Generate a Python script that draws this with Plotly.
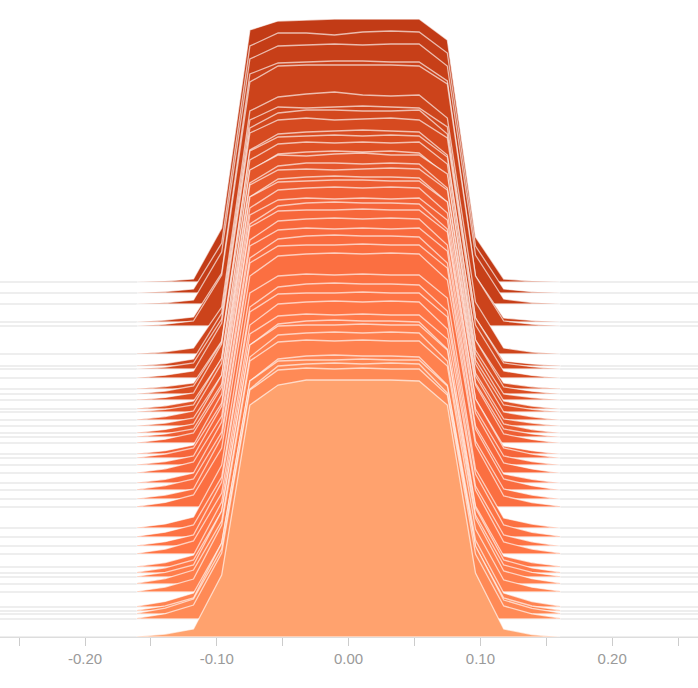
import plotly.graph_objects as go
from plotly.colors import sample_colorscale

# bin centres (x) shared by all ridges
bins = [-0.1605, -0.1391, -0.1177, -0.0963, -0.0749, -0.0535, -0.0321, -0.0107,
        0.0107, 0.0321, 0.0535, 0.0749, 0.0963, 0.1177, 0.1391, 0.1605]

# ridge baselines, back (top) to front (bottom)
offsets = [355, 344, 333, 315, 311, 283, 271, 268, 259, 248,
           243, 237, 228, 225, 217, 211, 204, 200, 194, 183,
           179, 172, 164, 154, 147, 138, 130, 109, 100, 91,
           83, 70, 64, 60, 53, 45, 30, 26, 23, 18, 0]

d00 = [0.0, 1.0, 3, 54, 252, 261, 262, 263, 263, 263, 263, 242, 45, 3, 1.0, 0.0]
d01 = [0.0, 1.5, 4, 50, 247, 260, 260, 258, 261, 262, 261, 240, 47, 4, 1.3, 0.1]
d02 = [0.1, 1.2, 4, 52, 245, 258, 259, 260, 259, 260, 260, 238, 49, 5, 1.5, 0.2]
d03 = [0.1, 2.0, 5, 49, 248, 259, 260, 261, 261, 260, 260, 241, 46, 4, 1.6, 0.0]
d04 = [0.0, 1.8, 5, 51, 244, 260, 261, 261, 261, 261, 260, 242, 50, 5, 1.8, 0.1]
d05 = [0.2, 2.2, 6, 47, 243, 257, 260, 262, 259, 258, 259, 236, 52, 6, 2.0, 0.2]
d06 = [0.2, 2.5, 7, 53, 246, 259, 258, 259, 260, 259, 258, 239, 48, 5, 2.1, 0.3]
d07 = [0.1, 2.0, 6, 50, 241, 256, 259, 259, 258, 258, 259, 235, 51, 6, 2.3, 0.2]
d08 = [0.3, 2.8, 7, 55, 245, 258, 260, 258, 259, 260, 258, 240, 53, 7, 2.6, 0.3]
d09 = [0.2, 2.4, 6, 48, 239, 255, 257, 258, 259, 258, 257, 234, 49, 6, 2.2, 0.2]
d10 = [0.3, 3.0, 8, 52, 243, 257, 258, 259, 258, 259, 258, 237, 54, 7, 2.8, 0.4]
d11 = [0.2, 2.6, 7, 56, 240, 256, 258, 257, 258, 257, 258, 236, 50, 6, 2.5, 0.3]
d12 = [0.4, 3.2, 8, 50, 238, 255, 257, 258, 257, 258, 256, 233, 55, 8, 3.0, 0.4]
d13 = [0.3, 2.7, 7, 54, 242, 257, 256, 258, 259, 257, 257, 238, 52, 7, 2.7, 0.3]
d14 = [0.4, 3.4, 9, 57, 237, 254, 257, 257, 256, 257, 256, 232, 56, 8, 3.2, 0.5]
d15 = [0.3, 3.0, 8, 51, 241, 256, 257, 256, 257, 258, 257, 236, 53, 7, 2.9, 0.4]
d16 = [0.5, 3.6, 9, 58, 236, 254, 256, 257, 256, 256, 255, 231, 57, 9, 3.4, 0.5]
d17 = [0.4, 3.1, 8, 53, 240, 255, 256, 257, 257, 256, 256, 235, 54, 8, 3.1, 0.4]
d18 = [0.5, 3.8, 10, 56, 235, 253, 255, 256, 255, 256, 255, 230, 58, 9, 3.6, 0.6]
d19 = [0.4, 3.3, 9, 60, 239, 254, 256, 255, 256, 255, 256, 234, 55, 8, 3.3, 0.5]
d20 = [0.6, 4.0, 10, 55, 234, 252, 255, 256, 255, 255, 254, 229, 59, 10, 3.9, 0.6]
d21 = [0.5, 3.5, 9, 59, 238, 254, 255, 255, 256, 255, 255, 233, 56, 9, 3.5, 0.5]
d22 = [0.6, 4.2, 11, 57, 233, 252, 254, 255, 254, 255, 254, 228, 60, 10, 4.1, 0.7]
d23 = [0.5, 3.7, 10, 61, 237, 253, 255, 254, 255, 254, 255, 232, 57, 9, 3.7, 0.6]
d24 = [0.7, 4.4, 11, 58, 232, 251, 254, 255, 254, 254, 253, 227, 61, 11, 4.3, 0.7]
d25 = [0.6, 3.9, 10, 62, 236, 253, 254, 254, 255, 254, 254, 231, 58, 10, 3.9, 0.6]
d26 = [0.7, 4.6, 12, 59, 231, 251, 253, 254, 253, 254, 253, 227, 62, 11, 4.5, 0.8]
d27 = [0.6, 4.1, 11, 63, 235, 252, 254, 253, 254, 253, 253, 230, 59, 10, 4.0, 0.7]
d28 = [0.8, 4.8, 12, 60, 230, 250, 253, 254, 253, 253, 252, 226, 63, 12, 4.7, 0.8]
d29 = [0.7, 4.3, 11, 64, 234, 252, 253, 253, 254, 253, 253, 229, 60, 11, 4.2, 0.7]
d30 = [0.8, 5.0, 13, 61, 229, 250, 252, 253, 252, 253, 252, 225, 64, 12, 4.9, 0.9]
d31 = [0.7, 4.5, 12, 65, 233, 251, 253, 252, 253, 252, 252, 228, 61, 11, 4.4, 0.8]
d32 = [0.9, 5.2, 13, 62, 228, 249, 252, 253, 252, 252, 251, 224, 65, 13, 5.1, 0.9]
d33 = [0.8, 4.7, 12, 66, 232, 251, 252, 252, 253, 252, 252, 227, 62, 12, 4.6, 0.8]
d34 = [0.9, 5.4, 14, 63, 227, 249, 251, 252, 251, 252, 251, 223, 66, 13, 5.3, 1.0]
d35 = [0.8, 4.9, 13, 67, 231, 250, 252, 251, 252, 251, 251, 226, 63, 12, 4.8, 0.9]
d36 = [1.0, 5.6, 14, 64, 226, 248, 251, 252, 251, 251, 250, 222, 67, 14, 5.5, 1.0]
d37 = [0.9, 5.1, 13, 68, 230, 250, 251, 251, 252, 251, 251, 225, 64, 13, 5.0, 0.9]
d38 = [1.0, 5.8, 15, 65, 225, 248, 250, 251, 250, 251, 250, 221, 68, 14, 5.7, 1.1]
d39 = [0.9, 5.3, 14, 66, 229, 249, 251, 250, 251, 250, 250, 224, 65, 13, 5.2, 1.0]
d40 = [0.5, 3.0, 8, 62, 232, 252, 257, 257, 257, 257, 256, 232, 64, 8, 2.5, 0.5]

densities = [d00, d01, d02, d03, d04, d05, d06, d07, d08, d09,
             d10, d11, d12, d13, d14, d15, d16, d17, d18, d19,
             d20, d21, d22, d23, d24, d25, d26, d27, d28, d29,
             d30, d31, d32, d33, d34, d35, d36, d37, d38, d39, d40]

tick_positions = [-0.25, -0.20, -0.15, -0.10, -0.05, 0.0, 0.05, 0.10, 0.15, 0.20, 0.25]
tick_labels = ["", "-0.20", "", "-0.10", "", "0.00", "", "0.10", "", "0.20", ""]

x_range = [-0.2645, 0.2651]

scale = [[0.0, "#c23b16"], [0.25, "#db4e22"], [0.5, "#f6653a"],
         [0.75, "#ff7646"], [0.975, "#ff8a56"], [1.0, "#ffa26e"]]
n = len(offsets)
colors = sample_colorscale(scale, [i / (n - 1) for i in range(n)])

fig = go.Figure()
for i, (off, vals) in enumerate(zip(offsets, densities)):
    fig.add_trace(go.Scatter(
        x=x_range, y=[off, off], mode="lines",
        line=dict(color="#e9e9e9", width=1.5),
        hoverinfo="skip", showlegend=False))
    xs = bins + bins[::-1] + [bins[0]]
    ys = [off + v for v in vals] + [off] * len(bins) + [off + vals[0]]
    fig.add_trace(go.Scatter(
        x=xs, y=ys, mode="lines", fill="toself",
        fillcolor=colors[i],
        line=dict(color="rgba(255,255,255,0.65)", width=1.3),
        hoverinfo="skip", showlegend=False))

fig.update_layout(
    width=698, height=688,
    margin=dict(l=0, r=0, t=0, b=51, pad=0),
    paper_bgcolor="white", plot_bgcolor="white",
    showlegend=False,
    xaxis=dict(range=x_range, showgrid=False, zeroline=False, automargin=False,
               showline=True, linecolor="#dddddd", linewidth=1,
               ticks="outside", ticklen=8, tickcolor="#cccccc",
               tickmode="array", tickvals=tick_positions, ticktext=tick_labels,
               tickfont=dict(family="Helvetica, Arial, Liberation Sans, sans-serif",
                             size=15, color="#9a9a9a")),
    yaxis=dict(range=[0, 637], visible=False, automargin=False),
)

fig.write_html("out.html", config={"displayModeBar": False},
               post_script="document.body.style.margin='0';document.body.style.padding='0';")
